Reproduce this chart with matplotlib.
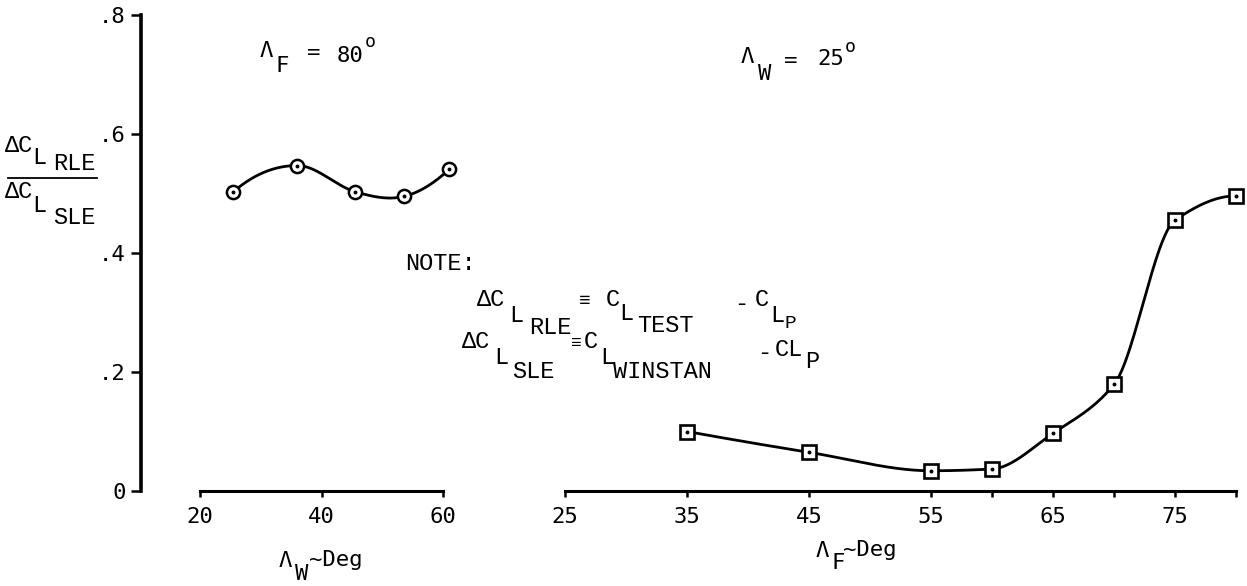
import numpy as np
import matplotlib
matplotlib.use("Agg")
import matplotlib.pyplot as plt
from matplotlib.lines import Line2D

# wing sweep series (fuselage sweep fixed at 80 deg)
sweep_w = [25.5, 36, 45.5, 53.5, 61]
ratio_w = [0.503, 0.547, 0.503, 0.495, 0.541]

# fuselage sweep series (wing sweep fixed at 25 deg)
sweep_f = [35, 45, 55, 60, 65, 70, 75, 80]
ratio_f = [0.100, 0.065, 0.034, 0.037, 0.097, 0.179, 0.455, 0.496]

y_ticks = [0, 0.2, 0.4, 0.6, 0.8]
y_tick_labels = ["0", ".2", ".4", ".6", ".8"]
w_ticks = [20, 40, 60]
f_ticks = [25, 35, 45, 55, 60, 65, 70, 75, 80]
f_tick_labels = ["25", "35", "45", "55", "", "65", "", "75", ""]

W, H = 1247, 586
TICK_FONT = ["DejaVu Sans Mono"]
NOTE_FONT = ["Liberation Mono", "DejaVu Sans Mono"]


def fair(x, y, xs, monotone=False):
    """Cubic Hermite curve through the points.
    Default slopes are central differences (Catmull-Rom like); with
    monotone=True the Fritsch-Carlson harmonic-mean slopes are used."""
    x = np.asarray(x, float)
    y = np.asarray(y, float)
    h = np.diff(x)
    d = np.diff(y) / h
    n = len(x)
    m = np.zeros(n)
    if monotone:
        for k in range(1, n - 1):
            if d[k - 1] * d[k] > 0:
                w1 = 2 * h[k] + h[k - 1]
                w2 = h[k] + 2 * h[k - 1]
                m[k] = (w1 + w2) / (w1 / d[k - 1] + w2 / d[k])
    else:
        m[1:-1] = (y[2:] - y[:-2]) / (x[2:] - x[:-2])
    m[0] = ((2 * h[0] + h[1]) * d[0] - h[0] * d[1]) / (h[0] + h[1])
    m[-1] = ((2 * h[-1] + h[-2]) * d[-1] - h[-1] * d[-2]) / (h[-1] + h[-2])
    if monotone:
        for k, dk in ((0, d[0]), (n - 1, d[-1])):
            if np.sign(m[k]) != np.sign(dk):
                m[k] = 0.0
            elif abs(m[k]) > 3 * abs(dk):
                m[k] = 3 * dk

    xs = np.asarray(xs, float)
    idx = np.clip(np.searchsorted(x, xs) - 1, 0, n - 2)
    t = (xs - x[idx]) / h[idx]
    h00 = 2 * t**3 - 3 * t**2 + 1
    h10 = t**3 - 2 * t**2 + t
    h01 = -2 * t**3 + 3 * t**2
    h11 = t**3 - t**2
    return (h00 * y[idx] + h10 * h[idx] * m[idx]
            + h01 * y[idx + 1] + h11 * h[idx] * m[idx + 1])


def put(px, py, s, size=17, family=NOTE_FONT, **kw):
    # place text with pixel coordinates measured from the top-left corner
    fig.text(px / W, 1 - py / H, s, fontsize=size, family=family,
             ha="left", va="center", **kw)


fig = plt.figure(figsize=(W / 100, H / 100), dpi=100)
fig.patch.set_facecolor("white")

y0, y8 = 491, 15                      # pixel rows of 0 and .8
ax_h = (y0 - y8) / H
ax_b = (H - y0) / H

# left panel: x runs 20..60 between px 200 and 443
px_per_deg = (443.3 - 200) / 40
ax_l = fig.add_axes([141 / W, ax_b, (443.3 - 141) / W, ax_h])
ax_l.set_xlim(20 - (200 - 141) / px_per_deg, 60)

# right panel: x runs 25..80 between px 565 and 1236
ax_r = fig.add_axes([565 / W, ax_b, (1236 - 565) / W, ax_h])
ax_r.set_xlim(25, 80)

for ax in (ax_l, ax_r):
    ax.set_ylim(0, 0.8)
    ax.patch.set_alpha(0)
    for side in ("top", "right"):
        ax.spines[side].set_visible(False)
    ax.spines["bottom"].set_linewidth(2.2)
    ax.tick_params(axis="x", direction="out", length=4.5, width=1.8,
                   pad=7, labelsize=16)

ax_l.spines["left"].set_linewidth(2.6)
ax_l.spines["bottom"].set_bounds(20, 60)
ax_l.set_yticks(y_ticks)
ax_l.set_yticklabels(y_tick_labels, family=TICK_FONT)
ax_l.tick_params(axis="y", direction="out", length=7, width=1.8,
                 pad=4, labelsize=16)
ax_l.set_xticks(w_ticks)
ax_l.set_xticklabels([str(t) for t in w_ticks], family=TICK_FONT)

ax_r.spines["left"].set_visible(False)
ax_r.tick_params(axis="y", left=False, labelleft=False)
ax_r.set_xticks(f_ticks)
ax_r.set_xticklabels(f_tick_labels, family=TICK_FONT)

# faired curves
xs = np.linspace(sweep_w[0], sweep_w[-1], 300)
ax_l.plot(xs, fair(sweep_w, ratio_w, xs), color="black", lw=2.0,
          solid_capstyle="round", clip_on=False)
ax_l.plot(sweep_w, ratio_w, ls="none", marker="o", ms=9.5, mew=1.8,
          mfc="white", mec="black", clip_on=False, zorder=3)
ax_l.plot(sweep_w, ratio_w, ls="none", marker="o", ms=1.8, color="black",
          clip_on=False, zorder=4)

xs = np.linspace(sweep_f[0], sweep_f[-1], 400)
ax_r.plot(xs, fair(sweep_f, ratio_f, xs, monotone=True), color="black",
          lw=2.0, solid_capstyle="round", clip_on=False)
ax_r.plot(sweep_f, ratio_f, ls="none", marker="s", ms=10.5, mew=1.9,
          mfc="white", mec="black", clip_on=False, zorder=3)
ax_r.plot(sweep_f, ratio_f, ls="none", marker="o", ms=1.8, color="black",
          clip_on=False, zorder=4)

# y label as a stacked fraction
put(5, 145, "\u0394C")
put(32, 157, "L")
put(53, 164, "RLE")
put(5, 191, "\u0394C")
put(32, 206, "L")
put(53, 217, "SLE")
fig.add_artist(Line2D([8 / W, 97 / W], [1 - 177.7 / H] * 2,
                      transform=fig.transFigure, color="black", lw=1.3))

# x labels
put(279, 561, "\u039b", size=16, family=TICK_FONT)
put(295, 574, "W", size=16, family=TICK_FONT)
put(309, 560, "~Deg", size=16, family=TICK_FONT)
put(816, 551, "\u039b", size=16, family=TICK_FONT)
put(831, 563, "F", size=16, family=TICK_FONT)
put(843, 550, "~Deg", size=16, family=TICK_FONT)

# fixed-sweep captions
put(260, 51, "\u039b", size=16, family=TICK_FONT)
put(276, 66, "F", size=16, family=TICK_FONT)
put(307, 53, "=", size=16, family=TICK_FONT)
put(337, 56, "80", size=16, family=TICK_FONT)
put(365, 42, "o", size=13, family=TICK_FONT)
put(741, 57, "\u039b", size=16, family=TICK_FONT)
put(758, 74, "W", size=16, family=TICK_FONT)
put(784, 61, "=", size=16, family=TICK_FONT)
put(817, 59, "25", size=16, family=TICK_FONT)
put(845, 47, "o", size=13, family=TICK_FONT)

# definitions note
put(405, 264, "NOTE:")
put(477, 300, "\u0394C")
put(509, 316, "L")
put(529, 327, "RLE")
put(579, 302, "\u2261", size=14)
put(606, 300, "C")
put(619, 314, "L")
put(637, 325, "TEST")
put(734, 304, "-")
put(755, 300, "C")
put(770, 315, "L")
put(785, 324, "P", size=14)
put(462, 342, "\u0394C")
put(494, 357, "L")
put(512, 372, "SLE")
put(571, 344, "\u2261", size=13)
put(584, 342, "C")
put(600, 357, "L")
put(613, 372, "WINSTAN")
put(757, 352, "-")
put(775, 349, "CL")
put(805, 361, "P")

fig.savefig("out.png", dpi=100)
